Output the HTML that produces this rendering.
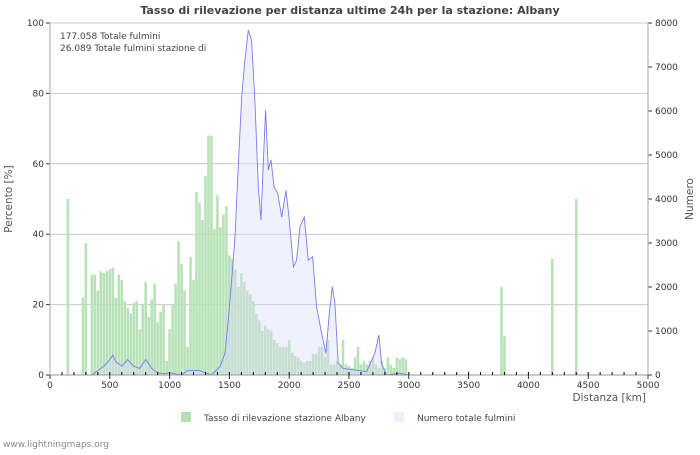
<!DOCTYPE html>
<html><head><meta charset="utf-8"><style>
body{margin:0;background:#fff;font-family:"Liberation Sans","DejaVu Sans",sans-serif}
svg text{font-family:"DejaVu Sans","Liberation Sans",sans-serif}
</style></head><body>
<svg id="c" width="700" height="450" viewBox="0 0 700 450" xmlns="http://www.w3.org/2000/svg">
<rect width="700" height="450" fill="#fff"/>
<text x="350" y="14" text-anchor="middle" font-size="11" font-weight="bold" fill="#444">Tasso di rilevazione per distanza ultime 24h per la stazione: Albany</text>
<g id="grid"></g><g id="bars"></g><g id="area"></g><g id="axes"></g>
<text x="60" y="39" font-size="9" fill="#444">177.058 Totale fulmini</text>
<text x="60" y="51" font-size="9" fill="#444">26.089 Totale fulmini stazione di</text>
<text transform="translate(12,199) rotate(-90)" text-anchor="middle" font-size="10.5" fill="#555">Percento   [%]</text>
<text transform="translate(693,199) rotate(-90)" text-anchor="middle" font-size="10.5" fill="#555">Numero</text>
<text x="646" y="401" text-anchor="end" font-size="10.5" fill="#555">Distanza   [km]</text>
<rect x="181" y="412" width="10" height="10" fill="#b5e0b5"/>
<text x="204" y="421" font-size="9" fill="#444">Tasso di rilevazione stazione Albany</text>
<rect x="394" y="412" width="10" height="10" fill="#eeeefc"/>
<text x="417" y="421" font-size="9" fill="#444">Numero totale fulmini</text>
<text x="3" y="447" font-size="9" fill="#888">www.lightningmaps.org</text>
</svg>
<script>
const barKm=[150,275,300,350,375,400,425,450,475,500,525,550,575,600,625,650,675,700,725,750,775,800,825,850,875,900,925,950,975,1000,1025,1050,1075,1100,1125,1150,1175,1200,1225,1250,1275,1300,1325,1350,1375,1400,1425,1450,1475,1500,1525,1550,1575,1600,1625,1650,1675,1700,1725,1750,1775,1800,1825,1850,1875,1900,1925,1950,1975,2000,2025,2050,2075,2100,2125,2150,2175,2200,2225,2250,2275,2300,2325,2350,2375,2400,2425,2450,2475,2500,2525,2550,2575,2600,2625,2650,2675,2700,2725,2750,2775,2800,2825,2850,2875,2900,2925,2950,2975,3775,3800,4200,4400];
const barPct=[50,22,37.5,28.5,28.5,24,29.5,29,29.5,30,30.5,22,28.5,27,21,19,17.5,20.5,21,13,20,26.5,16.5,21.5,26,15,18,20,4,13,20,26,38,31.5,24,8,33.5,27,52,49,44,56.5,68,68,41.5,51,42,45.5,48,34,33,30,25,29,26.5,24,23,21,17.5,15.5,12.5,14,13,12.5,10,9,8,8,8,10,6.4,5.4,5,4,3.5,4,4,6,6,8,8,5,10,3,3,4,3,10,3,2.5,2,5,8,3,4,3,4,5,3,2,4,2,5,3,2,5,4.5,5,4.5,25,11,33,50];
const lineKm=[350,400,450,500,525,550,600,650,700,750,800,850,900,950,1000,1100,1150,1250,1300,1350,1421,1463,1491,1519,1547,1575,1603,1630,1658,1686,1714,1742,1764,1784,1803,1825,1848,1873,1904,1937,1973,2001,2035,2062,2090,2126,2160,2196,2229,2271,2307,2335,2360,2382,2410,2452,2563,2647,2716,2750,2772,2813,2925,3000];
const lineN=[0,100,200,350,450,300,200,350,200,150,350,150,50,30,50,0,100,100,50,0,189,493,1250,2160,3140,4810,6320,7160,7840,7610,6170,4280,3520,4890,6020,4660,4890,4280,4130,3590,4200,3520,2460,2610,3370,3590,2610,2690,1550,950,490,1400,2010,1630,265,150,110,75,490,910,265,0,40,0];
const xTicks=[0,500,1000,1500,2000,2500,3000,3500,4000,4500,5000];
const leftTicks=[0,20,40,60,80,100];
const rightTicks=[0,1000,2000,3000,4000,5000,6000,7000,8000];
const X0=50,X1=648,Y0=375,Y1=23,NS='http://www.w3.org/2000/svg';
const xs=k=>X0+k/5000*(X1-X0), yl=p=>Y0-p/100*(Y0-Y1), yr=n=>Y0-n/8000*(Y0-Y1);
function mk(t,a,p){const e=document.createElementNS(NS,t);for(const k in a)e.setAttribute(k,a[k]);document.getElementById(p).appendChild(e);return e;}
leftTicks.forEach(v=>{if(v>0){const g=mk('line',{x1:X0,x2:X1,y1:yl(v),y2:yl(v),stroke:'#c8c8c8'},'grid');

}
const t=mk('text',{x:X0-6,y:yl(v)+3,'text-anchor':'end','font-size':'9','fill':'#333'},'axes');t.textContent=v;


mk('line',{x1:X0-4,x2:X0,y1:yl(v),y2:yl(v),stroke:'#333'},'axes');});
rightTicks.forEach(v=>{const t=mk('text',{x:X1+7,y:yr(v)+3,'font-size':'9',fill:'#333'},'axes');t.textContent=v;


mk('line',{x1:X1,x2:X1+4,y1:yr(v),y2:yr(v),stroke:'#333'},'axes');});
barKm.forEach((k,i)=>{const r=mk('rect',{x:xs(k)-1.3,y:yl(barPct[i]),width:2.6,height:Y0-yl(barPct[i]),fill:'#b8e2b8'},'bars');

});
let d='M'+xs(lineKm[0])+','+Y0;lineKm.forEach((k,i)=>d+=' L'+xs(k).toFixed(1)+','+yr(lineN[i]).toFixed(1));
const area=mk('path',{d:d+' L'+xs(lineKm[lineKm.length-1])+','+Y0+' Z',fill:'rgba(220,220,250,0.4)'},'area');


let l='';lineKm.forEach((k,i)=>l+=(i?' L':'M')+xs(k).toFixed(1)+','+yr(lineN[i]).toFixed(1));
const line=mk('path',{d:l,fill:'none',stroke:'#7b7bf0','stroke-width':0.9},'area');


mk('line',{x1:X0,x2:X0,y1:Y1,y2:Y0,stroke:'#aaa'},'axes');
mk('line',{x1:X1,x2:X1,y1:Y1,y2:Y0,stroke:'#aaa'},'axes');
mk('line',{x1:X0,x2:X1,y1:Y0,y2:Y0,stroke:'#999'},'axes');
for(let k=100;k<5000;k+=100)mk('line',{x1:xs(k),x2:xs(k),y1:Y0-3,y2:Y0,stroke:'#000'},'axes');
xTicks.forEach(v=>{mk('line',{x1:xs(v),x2:xs(v),y1:Y0,y2:Y0+4,stroke:'#333'},'axes');
const t=mk('text',{x:xs(v),y:Y0+13,'text-anchor':'middle','font-size':'9',fill:'#333'},'axes');t.textContent=v;

});
</script>
</body></html>
